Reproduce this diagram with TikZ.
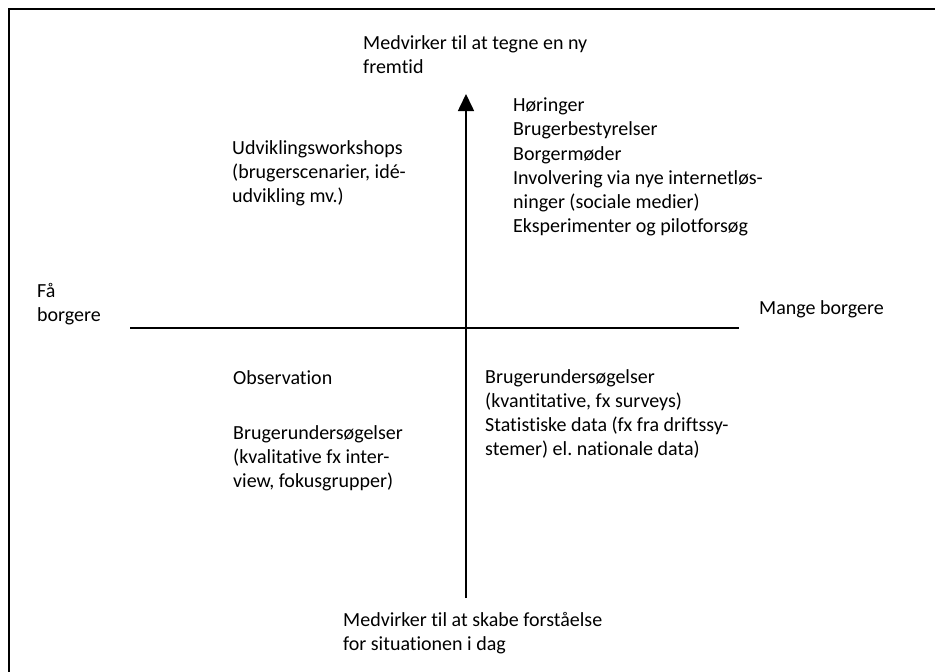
\documentclass[tikz,border=0pt]{standalone}
\usepackage{fontspec}
\setmainfont{Carlito}[Ligatures={NoCommon,NoContextual}]
\usetikzlibrary{arrows.meta}
\frenchspacing
\begin{document}
\begin{tikzpicture}[x=1pt,y=-1pt,
  lbl/.style={anchor=west,align=left,inner sep=0pt,font=\fontsize{20}{24.2}\selectfont\frenchspacing},
  axis/.style={line width=1.6pt},
  frame/.style={line width=2.2pt}]
\useasboundingbox (0,0) rectangle (935,672);
\coordinate (fa) at (9,672);
\coordinate (fb) at (9,9);
\coordinate (fc) at (935,9);
\draw[frame] (fa) -- (fb) -- (fc);
\coordinate (hl) at (130,328);
\coordinate (hr) at (739,328);
\coordinate (vb) at (466,598);
\coordinate (vt) at (466,94);
\draw[axis] (hl) -- (hr);
\draw[axis,-{Triangle[width=16pt,length=17pt]}] (vb) -- (vt);
\node[lbl] (top) at (363,55) {Medvirker til at tegne en ny\\fremtid};
\node[lbl] (ul) at (232,173) {Udviklingsworkshops\\(brugerscenarier, idé-\\udvikling mv.)};
\node[lbl] (ur) at (513,167) {Høringer\\Brugerbestyrelser\\Borgermøder\\Involvering via nye internetløs-\\ninger (sociale medier)\\Eksperimenter og pilotforsøg};
\node[lbl] (few) at (37,304) {Få\\borgere};
\node[lbl] (many) at (759,309) {Mange borgere};
\node[lbl] (obs) at (233,378) {Observation};
\node[lbl] (ll) at (233,458) {Brugerundersøgelser\\(kvalitative fx inter-\\view, fokusgrupper)};
\node[lbl] (lr) at (485,414) {Brugerundersøgelser\\(kvantitative, fx surveys)\\Statistiske data (fx fra driftssy-\\stemer) el. nationale data)};
\node[lbl] (bot) at (343,633) {Medvirker til at skabe forståelse\\for situationen i dag};
\end{tikzpicture}
\end{document}
